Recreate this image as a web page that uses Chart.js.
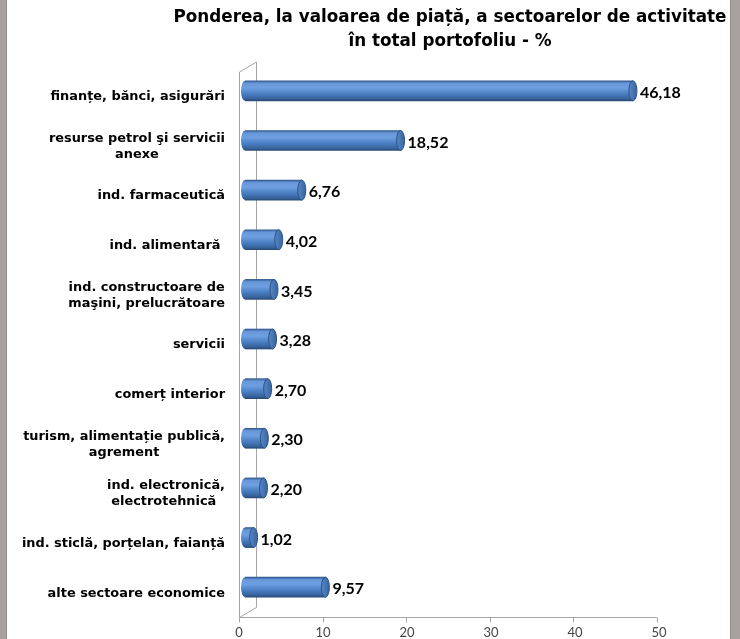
<!DOCTYPE html>
<html>
<head>
<meta charset="utf-8">
<script src="https://cdn.jsdelivr.net/npm/chart.js@4"></script>
<style>
html,body{margin:0;padding:0;background:#fff;overflow:hidden}
#wrap{position:relative;width:740px;height:639px}
#sectorChart{display:block}
.strip{position:absolute;top:0;height:639px;background:#a8a19f}
</style>
</head>
<body>
<div id="wrap">
  <canvas id="sectorChart" width="740" height="639"></canvas>
  <div class="strip" style="left:0;width:6px;border-right:1px solid #8e8e8e"></div>
  <div class="strip" style="left:730px;width:9px;border-left:1px solid #8e8e8e"></div>
</div>
<script>
const titleLines = ["Ponderea, la valoarea de piață, a sectoarelor de activitate", "în total portofoliu - %"];

const sectors = [
  "finanțe, bănci, asigurări",
  ["resurse petrol şi servicii", "anexe"],
  "ind. farmaceutică",
  "ind. alimentară ",
  ["ind. constructoare de", "maşini, prelucrătoare"],
  "servicii",
  "comerț interior",
  ["turism, alimentație publică,", "agrement"],
  ["ind. electronică,", "electrotehnică "],
  "ind. sticlă, porțelan, faianță",
  "alte sectoare economice"
];

const shares = [46.18, 18.52, 6.76, 4.02, 3.45, 3.28, 2.70, 2.30, 2.20, 1.02, 9.57];

const axisMin = 0;
const axisMax = 50;
const axisStep = 10;

Chart.defaults.animation = false;

// vertical shading so the bars look like cylinders
function barFill(c) {
  const y = c.chart.scales.y.getPixelForValue(c.dataIndex);
  if (!isFinite(y)) return "#4f81bd";
  const g = c.chart.ctx.createLinearGradient(0, y - 10, 0, y + 10);
  g.addColorStop(0, "#30598f");
  g.addColorStop(0.12, "#6797d8");
  g.addColorStop(0.35, "#6e9fe0");
  g.addColorStop(0.65, "#4a7ec2");
  g.addColorStop(0.9, "#36629a");
  g.addColorStop(1, "#284a77");
  return g;
}

// the grey 3d frame behind the bars
const depthBox = {
  id: "depthBox",
  beforeDatasetsDraw(chart) {
    const {ctx, chartArea: a, scales: {x}} = chart;
    const fx = v => a.left - 6 + (x.getPixelForValue(v) - a.left) * 0.995;
    const front = a.left - 6 + 0.5, back = a.left + 11 + 0.5, floor = a.bottom + 5 + 0.5;
    ctx.save();
    ctx.strokeStyle = "#a6a6a6";
    ctx.lineWidth = 1;
    ctx.beginPath();
    ctx.moveTo(back, a.top - 4);
    ctx.lineTo(back, floor - 10);
    ctx.lineTo(front, floor);
    ctx.lineTo(front, a.top + 6);
    ctx.lineTo(back, a.top - 4);
    ctx.moveTo(front, floor);
    ctx.lineTo(fx(axisMax), floor);
    for (let v = axisMin; v <= axisMax; v += axisStep) {
      const px = Math.round(fx(v)) + 0.5;
      ctx.moveTo(px, floor);
      ctx.lineTo(px, floor + 5);
    }
    ctx.stroke();
    ctx.restore();
  }
};

const cylinderEnds = {
  id: "cylinderEnds",
  afterDatasetsDraw(chart) {
    const ctx = chart.ctx;
    chart.getDatasetMeta(0).data.forEach(bar => {
      const h = bar.height / 2, r = 4;
      ctx.save();
      ctx.beginPath();
      ctx.ellipse(bar.base, bar.y, r, h, 0, Math.PI / 2, Math.PI * 1.5);
      ctx.fillStyle = bar.options.backgroundColor;
      ctx.fill();
      ctx.beginPath();
      ctx.ellipse(bar.x, bar.y, r, h, 0, 0, Math.PI * 2);
      const g = ctx.createLinearGradient(bar.x - r, 0, bar.x + r, 0);
      g.addColorStop(0, "#5687c9");
      g.addColorStop(1, "#38659f");
      ctx.fillStyle = g;
      ctx.fill();
      ctx.strokeStyle = "#2d5283";
      ctx.lineWidth = 1;
      ctx.stroke();
      ctx.restore();
    });
  }
};

const textLabels = {
  id: "textLabels",
  afterDraw(chart) {
    const ctx = chart.ctx, ys = chart.scales.y, area = chart.chartArea;
    ctx.save();
    ctx.fillStyle = "#000";
    ctx.textBaseline = "middle";

    // category names, each block right aligned, its lines centred
    ctx.font = "bold 12.9px 'DejaVu Sans'";
    ctx.textAlign = "center";
    sectors.forEach((name, i) => {
      const lines = Array.isArray(name) ? name : [name];
      const w = Math.max(...lines.map(l => ctx.measureText(l).width));
      const cx = area.left - 20 - w / 2;
      const cy = ys.getPixelForTick(i) + 6;
      lines.forEach((l, k) => ctx.fillText(l, cx, cy + (k - (lines.length - 1) / 2) * 16));
    });

    // values at the end of each bar
    ctx.font = "bold 16px Lato";
    ctx.textAlign = "left";
    chart.getDatasetMeta(0).data.forEach((bar, i) => {
      ctx.fillText(shares[i].toFixed(2).replace(".", ","), bar.x + 7, bar.y + 2);
    });
    ctx.restore();
  }
};

new Chart(document.getElementById("sectorChart"), {
  type: "bar",
  data: {
    labels: sectors,
    datasets: [{
      data: shares,
      backgroundColor: barFill,
      borderWidth: 0,
      barThickness: 20
    }]
  },
  options: {
    indexAxis: "y",
    responsive: false,
    layout: {padding: {left: 160, right: 0, top: 0, bottom: 0}},
    plugins: {
      legend: {display: false},
      tooltip: {enabled: false},
      title: {
        display: true,
        text: titleLines,
        color: "#000",
        font: {family: "'DejaVu Sans'", size: 16.8, weight: "bold", lineHeight: 1.4},
        padding: {top: 6, bottom: 13}
      }
    },
    scales: {
      x: {
        min: axisMin,
        max: axisMax,
        grid: {display: false, drawTicks: false},
        border: {display: false},
        ticks: {stepSize: axisStep, color: "#444", padding: 14, labelOffset: -6,
                font: {family: "Lato", size: 13, lineHeight: 1}},
        afterFit: s => { s.height = 27; s.paddingRight = 75; }
      },
      y: {
        grid: {display: false, drawTicks: false},
        border: {display: false},
        ticks: {display: false},
        afterFit: s => { s.width = 85; }
      }
    }
  },
  plugins: [depthBox, cylinderEnds, textLabels]
});
</script>
</body>
</html>
